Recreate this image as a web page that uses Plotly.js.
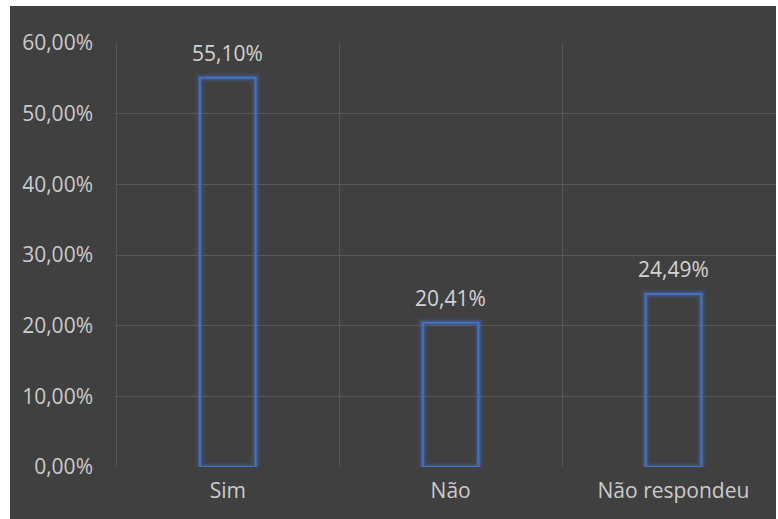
<!DOCTYPE html>
<html>
<head>
<meta charset="utf-8">
<script src="https://cdn.plot.ly/plotly-3.0.1.min.js"></script>
<style>
  html, body { margin: 0; padding: 0; background: #ffffff; width: 778px; height: 519px; overflow: hidden; }
  #chart { position: absolute; left: 10px; top: 6px; width: 766px; height: 513px; }
</style>
</head>
<body>
<div id="chart"></div>
<script>
const categories = ["Sim", "Não", "Não respondeu"];
const values = [0.5510, 0.2041, 0.2449];
const yTickVals = [0, 0.1, 0.2, 0.3, 0.4, 0.5, 0.6];

const barColor = "#4472c4";
const fmt = v => (v * 100).toFixed(2).replace(".", ",") + "%";

const glowOuter = {
  type: "bar", x: categories, y: values, width: 0.25,
  marker: { color: "rgba(0,0,0,0)", line: { color: "rgba(68,114,196,0.15)", width: 9 } },
  hoverinfo: "skip", showlegend: false
};
const glowInner = {
  type: "bar", x: categories, y: values, width: 0.25,
  marker: { color: "rgba(0,0,0,0)", line: { color: "rgba(68,114,196,0.3)", width: 5 } },
  hoverinfo: "skip", showlegend: false
};
const main = {
  type: "bar", x: categories, y: values, width: 0.25,
  marker: { color: "rgba(0,0,0,0)", line: { color: barColor, width: 2 } },
  showlegend: false
};

const annotations = categories.map((c, i) => ({
  x: c, y: values[i], xref: "x", yref: "y",
  text: fmt(values[i]), showarrow: false,
  yanchor: "middle", yshift: 25,
  font: { family: "Open Sans, sans-serif", size: 21, color: "#d3d3d3" }
}));

const layout = {
  width: 766, height: 513,
  paper_bgcolor: "#404040", plot_bgcolor: "#404040",
  margin: { l: 105, r: 0, t: 37, b: 52 },
  barmode: "overlay",
  separators: ", ",
  font: { family: "Open Sans, sans-serif", size: 21, color: "#cbcbcb" },
  xaxis: {
    type: "category", range: [-0.506, 2.46],
    tickson: "boundaries", showgrid: true, gridcolor: "#585858", gridwidth: 1,
    ticks: "", ticklen: 0, ticklabelstandoff: 9,
    showline: false, zeroline: false, fixedrange: true
  },
  yaxis: {
    range: [0, 0.6], tickvals: yTickVals, tickformat: ".2%",
    showgrid: true, gridcolor: "#585858", gridwidth: 1,
    zeroline: true, zerolinecolor: "#404040", zerolinewidth: 2,
    ticks: "", ticklabelstandoff: 21, showline: false, fixedrange: true
  },
  annotations: annotations,
  showlegend: false
};

Plotly.newPlot("chart", [glowOuter, glowInner, main], layout, { displayModeBar: false, staticPlot: true });
</script>
</body>
</html>
